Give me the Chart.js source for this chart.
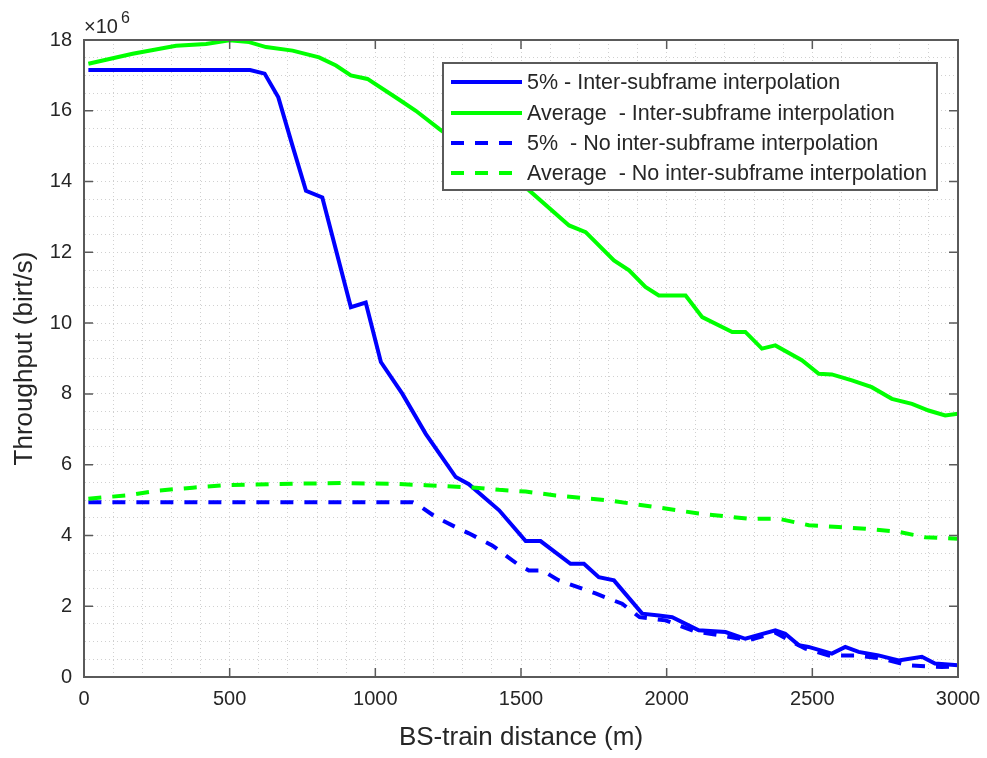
<!DOCTYPE html>
<html>
<head>
<meta charset="utf-8">
<script src="https://cdn.jsdelivr.net/npm/chart.js@4/dist/chart.umd.min.js"></script>
<style>
  html, body { margin: 0; padding: 0; background: #fff; }
  #wrap { width: 987px; height: 758px; }
</style>
</head>
<body>
<div id="wrap"><canvas id="chart" width="987" height="758"></canvas></div>
<script>
// 数据
const seriesNames = [
    '5% - Inter-subframe interpolation',
    'Average  - Inter-subframe interpolation',
    '5%  - No inter-subframe interpolation',
    'Average  - No inter-subframe interpolation'
];

// 5% - Inter-subframe interpolation
const pctInterX = [15, 570, 620, 667, 716, 762, 818, 916, 967, 1019, 1093, 1173, 1276, 1321, 1425, 1516, 1567, 1670, 1716, 1767, 1819, 1916, 1973, 2019, 2110, 2202, 2270, 2373, 2407, 2453, 2487, 2567, 2613, 2659, 2727, 2796, 2876, 2921, 3000];
const pctInterY = [17.15, 17.15, 17.05, 16.38, 15.0, 13.74, 13.55, 10.45, 10.58, 8.9, 8.0, 6.87, 5.65, 5.45, 4.71, 3.84, 3.84, 3.2, 3.2, 2.82, 2.73, 1.79, 1.74, 1.69, 1.32, 1.27, 1.08, 1.32, 1.22, 0.9, 0.85, 0.66, 0.85, 0.71, 0.61, 0.47, 0.57, 0.38, 0.33];

// Average - Inter-subframe interpolation
const avgInterX = [15, 167, 316, 419, 499, 567, 625, 716, 807, 865, 916, 973, 1081, 1139, 1219, 1300, 1400, 1528, 1665, 1722, 1819, 1871, 1927, 1973, 2065, 2122, 2225, 2270, 2327, 2373, 2464, 2522, 2567, 2636, 2704, 2773, 2842, 2899, 2956, 3000];
const avgInterY = [17.33, 17.61, 17.84, 17.89, 17.99, 17.94, 17.8, 17.7, 17.51, 17.28, 17.0, 16.9, 16.32, 16.0, 15.49, 15.0, 14.4, 13.75, 12.76, 12.57, 11.77, 11.49, 11.02, 10.78, 10.78, 10.17, 9.75, 9.75, 9.28, 9.37, 8.95, 8.57, 8.55, 8.38, 8.19, 7.86, 7.72, 7.53, 7.39, 7.44];

// 5% - No inter-subframe interpolation
const pctNoX = [15, 1127, 1150, 1207, 1287, 1321, 1401, 1493, 1527, 1573, 1630, 1756, 1847, 1907, 1996, 2100, 2180, 2282, 2373, 2476, 2556, 2647, 2739, 2830, 2944, 3000];
const pctNoY = [4.94, 4.94, 4.85, 4.52, 4.19, 4.06, 3.72, 3.16, 3.01, 3.01, 2.73, 2.36, 2.07, 1.69, 1.6, 1.28, 1.18, 1.04, 1.25, 0.8, 0.61, 0.61, 0.52, 0.33, 0.28, 0.3];

// Average - No inter-subframe interpolation
const avgNoX = [15, 145, 259, 373, 487, 716, 887, 1059, 1173, 1345, 1425, 1516, 1619, 1801, 1996, 2110, 2282, 2385, 2488, 2590, 2682, 2796, 2887, 3000];
const avgNoY = [5.04, 5.13, 5.27, 5.35, 5.42, 5.46, 5.48, 5.46, 5.42, 5.35, 5.29, 5.24, 5.13, 4.99, 4.76, 4.62, 4.47, 4.47, 4.29, 4.24, 4.19, 4.1, 3.95, 3.91];

// 坐标轴
const xMin = 0, xMax = 3000, xMajor = 500, xMinor = 100;
const yMin = 0, yMax = 18, yMajor = 2, yMinor = 0.5;

const blue = '#0000ff';
const green = '#00ff00';
const axisColor = '#5a5a5a';
const textColor = '#262626';
const font = 'Arial, "Liberation Sans", Helvetica, sans-serif';

function toPoints(xs, ys) {
    return xs.map((x, i) => ({ x: x, y: ys[i] }));
}

const datasets = [
    { label: seriesNames[0], data: toPoints(pctInterX, pctInterY), borderColor: blue, borderDash: [], order: 3 },
    { label: seriesNames[1], data: toPoints(avgInterX, avgInterY), borderColor: green, borderDash: [], order: 2 },
    { label: seriesNames[2], data: toPoints(pctNoX, pctNoY), borderColor: blue, borderDash: [13, 11], order: 1 },
    { label: seriesNames[3], data: toPoints(avgNoX, avgNoY), borderColor: green, borderDash: [13, 11], order: 0 }
].map(d => Object.assign(d, { borderWidth: 4, pointRadius: 0, tension: 0, fill: false }));

// 框线、刻度、×10^6、图例
const matlabDecor = {
    id: 'matlabDecor',
    beforeDraw(chart) {
        const c = chart.ctx;
        c.save();
        c.fillStyle = '#fff';
        c.fillRect(0, 0, chart.width, chart.height);
        c.restore();
    },
    afterDraw(chart) {
        const c = chart.ctx;
        const a = chart.chartArea;
        const xs = chart.scales.x;
        const ys = chart.scales.y;
        c.save();

        // 框
        c.strokeStyle = axisColor;
        c.lineWidth = 2;
        c.strokeRect(a.left, a.top, a.right - a.left, a.bottom - a.top);

        // 主刻度（向内）
        c.lineWidth = 1.5;
        c.beginPath();
        for (let v = xMin; v <= xMax; v += xMajor) {
            const px = xs.getPixelForValue(v);
            c.moveTo(px, a.bottom); c.lineTo(px, a.bottom - 9);
            c.moveTo(px, a.top); c.lineTo(px, a.top + 9);
        }
        for (let v = yMin; v <= yMax; v += yMajor) {
            const py = ys.getPixelForValue(v);
            c.moveTo(a.left, py); c.lineTo(a.left + 9, py);
            c.moveTo(a.right, py); c.lineTo(a.right - 9, py);
        }
        c.stroke();

        // ×10^6
        c.fillStyle = textColor;
        c.textBaseline = 'alphabetic';
        c.textAlign = 'left';
        c.font = '20px ' + font;
        c.fillText('\u00d710', a.left, a.top - 7);
        const w = c.measureText('\u00d710').width;
        c.font = '16px ' + font;
        c.fillText('6', a.left + w + 3, a.top - 17);

        // 图例
        const box = { left: 443, top: 63, right: 937, bottom: 190 };
        const rows = [82, 113, 143, 173];
        c.fillStyle = '#fff';
        c.fillRect(box.left, box.top, box.right - box.left, box.bottom - box.top);
        c.strokeStyle = axisColor;
        c.lineWidth = 2;
        c.strokeRect(box.left, box.top, box.right - box.left, box.bottom - box.top);
        c.font = '21.5px ' + font;
        c.textBaseline = 'middle';
        chart.data.datasets.forEach((ds, i) => {
            c.strokeStyle = ds.borderColor;
            c.lineWidth = ds.borderWidth;
            c.setLineDash(ds.borderDash);
            c.beginPath();
            c.moveTo(451, rows[i]);
            c.lineTo(522, rows[i]);
            c.stroke();
            c.setLineDash([]);
            c.fillStyle = textColor;
            c.fillText(ds.label, 527, rows[i] + 1);
        });
        c.restore();
    }
};

const ctx = document.getElementById('chart').getContext('2d');
const chart = new Chart(ctx, {
    type: 'line',
    data: { datasets: datasets },
    options: {
        responsive: false,
        animation: false,
        layout: { padding: { left: 0, right: 29, top: 40, bottom: 0 } },
        plugins: {
            legend: { display: false },
            tooltip: { enabled: false }
        },
        scales: {
            x: {
                type: 'linear',
                min: xMin,
                max: xMax,
                afterFit: s => { s.height = 81; s.paddingLeft = 0; s.paddingRight = 0; },
                grid: { color: '#d0d0d0', lineWidth: 1, drawTicks: false },
                border: { display: true, color: axisColor, width: 2, dash: [1, 3] },
                ticks: {
                    stepSize: xMinor,
                    autoSkip: false,
                    maxRotation: 0,
                    padding: 10,
                    color: textColor,
                    font: { family: font, size: 20 },
                    callback: v => (v % xMajor === 0 ? String(v) : '')
                },
                title: {
                    display: true,
                    text: 'BS-train distance (m)',
                    color: textColor,
                    font: { family: font, size: 26 },
                    padding: { top: 0, bottom: 5 }
                }
            },
            y: {
                type: 'linear',
                min: yMin,
                max: yMax,
                afterFit: s => { s.width = 84; s.paddingTop = 0; s.paddingBottom = 0; },
                grid: { color: '#d0d0d0', lineWidth: 1, drawTicks: false },
                border: { display: true, color: axisColor, width: 2, dash: [1, 3] },
                ticks: {
                    stepSize: yMinor,
                    autoSkip: false,
                    padding: 12,
                    color: textColor,
                    font: { family: font, size: 20 },
                    callback: v => (Math.abs(v % yMajor) < 1e-9 ? String(v) : '')
                },
                title: {
                    display: true,
                    text: 'Throughput (birt/s)',
                    color: textColor,
                    font: { family: font, size: 26 },
                    padding: { top: 9, bottom: 0 }
                }
            }
        }
    },
    plugins: [matlabDecor]
});
</script>
</body>
</html>
